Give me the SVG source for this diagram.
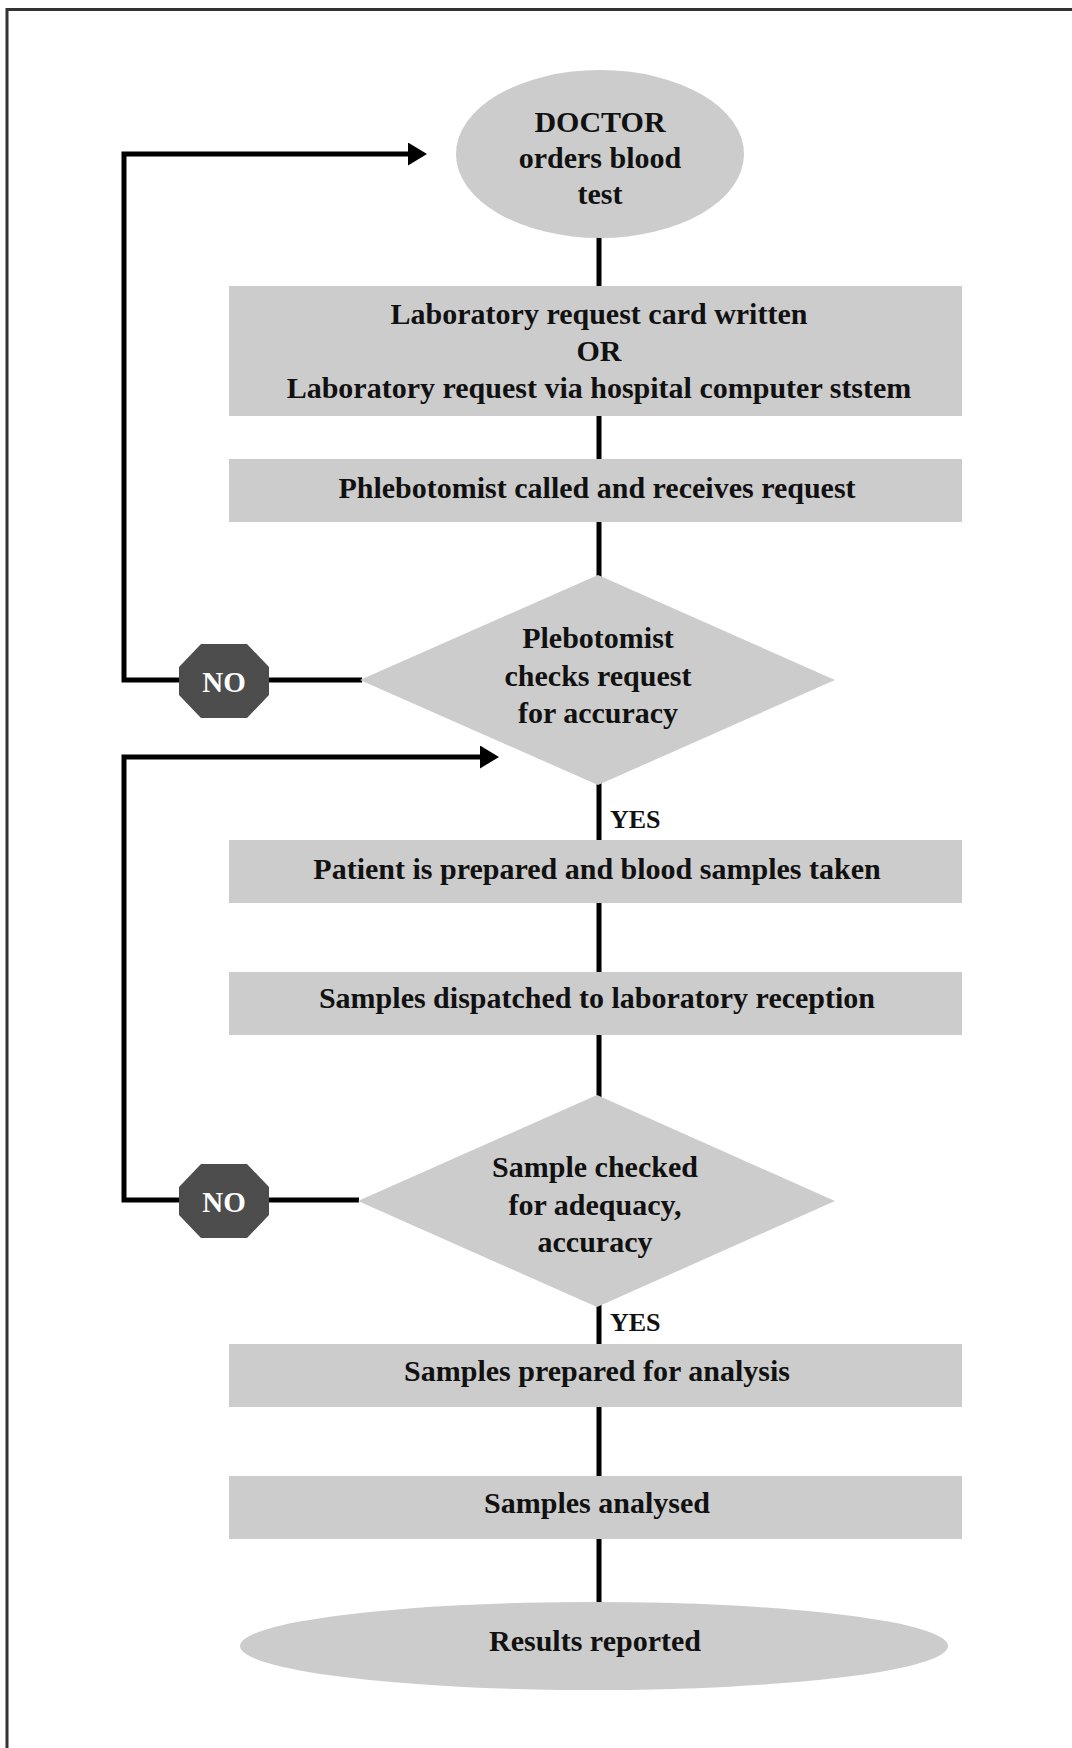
<svg xmlns="http://www.w3.org/2000/svg" width="1072" height="1748" viewBox="0 0 1072 1748">
  <style>
    .box { fill: #cccccc; }
    .stop { fill: #4d4d4d; }
    .lbl { font-family: "Liberation Serif", "Times New Roman", serif; font-weight: bold; font-size: 30px; fill: #111111; text-anchor: middle; }
    .no { fill: #ffffff; font-size: 29px; }
    .yes { font-size: 26px; text-anchor: start; }
    .wire { fill: none; stroke: #000000; stroke-width: 5; }
    .frame { fill: none; stroke: #333333; stroke-width: 3; }
  </style>
  <defs>
    <marker id="arrow" viewBox="0 0 19 23" refX="0" refY="11.5" markerWidth="19" markerHeight="23" markerUnits="userSpaceOnUse" orient="auto">
      <path d="M0,0 L19,11.5 L0,23 Z" fill="#000000"/>
    </marker>
    <polygon id="octagon" points="-23,-37 23,-37 45,-14 45,14 23,37 -23,37 -45,14 -45,-14"/>
  </defs>

  <rect width="1072" height="1748" fill="#ffffff"/>
  <!-- page frame: top and left edges -->
  <path class="frame" d="M7,1748 L7,9.5 L1072,9.5"/>

  <g id="connectors">
    <line class="wire" x1="599" y1="236" x2="599" y2="287"/>
    <line class="wire" x1="599" y1="415" x2="599" y2="460"/>
    <line class="wire" x1="599" y1="521" x2="599" y2="577"/>
    <line class="wire" x1="599" y1="783" x2="599" y2="841"/>
    <line class="wire" x1="599" y1="902" x2="599" y2="973"/>
    <line class="wire" x1="599" y1="1034" x2="599" y2="1097"/>
    <line class="wire" x1="599" y1="1305" x2="599" y2="1345"/>
    <line class="wire" x1="599" y1="1407" x2="599" y2="1477"/>
    <line class="wire" x1="599" y1="1539" x2="599" y2="1604"/>
    <!-- rejected request loops back to the doctor -->
    <path class="wire" d="M362,680 L124,680 L124,154 L408,154" marker-end="url(#arrow)"/>
    <!-- rejected sample loops back to sampling -->
    <path class="wire" d="M359,1200 L124,1200 L124,757 L480,757" marker-end="url(#arrow)"/>
  </g>

  <g id="doctor">
    <ellipse class="box" cx="600" cy="154" rx="144" ry="84"/>
    <text class="lbl" x="600" y="132">DOCTOR</text>
    <text class="lbl" x="600" y="168">orders blood</text>
    <text class="lbl" x="600" y="204">test</text>
  </g>

  <g id="request">
    <rect class="box" x="229" y="286" width="733" height="130"/>
    <text class="lbl" x="599" y="324">Laboratory request card written</text>
    <text class="lbl" x="599" y="361">OR</text>
    <text class="lbl" x="599" y="398">Laboratory request via hospital computer ststem</text>
  </g>

  <g id="phlebotomist-called">
    <rect class="box" x="229" y="459" width="733" height="63"/>
    <text class="lbl" x="597" y="498">Phlebotomist called and receives request</text>
  </g>

  <g id="check-request">
    <polygon class="box" points="598,575 835,680 598,785 360,680"/>
    <text class="lbl" x="598" y="648">Plebotomist</text>
    <text class="lbl" x="598" y="686">checks request</text>
    <text class="lbl" x="598" y="723">for accuracy</text>
  </g>

  <g id="no-request">
    <use href="#octagon" class="stop" x="224" y="681"/>
    <text class="lbl no" x="224" y="692">NO</text>
  </g>

  <g id="yes-request">
    <text class="lbl yes" x="610" y="828">YES</text>
  </g>

  <g id="samples-taken">
    <rect class="box" x="229" y="840" width="733" height="63"/>
    <text class="lbl" x="597" y="879">Patient is prepared and blood samples taken</text>
  </g>

  <g id="samples-dispatched">
    <rect class="box" x="229" y="972" width="733" height="63"/>
    <text class="lbl" x="597" y="1008">Samples dispatched to laboratory reception</text>
  </g>

  <g id="check-sample">
    <polygon class="box" points="597,1095 835,1201 597,1307 358,1201"/>
    <text class="lbl" x="595" y="1177">Sample checked</text>
    <text class="lbl" x="595" y="1215">for adequacy,</text>
    <text class="lbl" x="595" y="1252">accuracy</text>
  </g>

  <g id="no-sample">
    <use href="#octagon" class="stop" x="224" y="1201"/>
    <text class="lbl no" x="224" y="1212">NO</text>
  </g>

  <g id="yes-sample">
    <text class="lbl yes" x="610" y="1331">YES</text>
  </g>

  <g id="samples-prepared">
    <rect class="box" x="229" y="1344" width="733" height="63"/>
    <text class="lbl" x="597" y="1381">Samples prepared for analysis</text>
  </g>

  <g id="samples-analysed">
    <rect class="box" x="229" y="1476" width="733" height="63"/>
    <text class="lbl" x="597" y="1513">Samples analysed</text>
  </g>

  <g id="results">
    <ellipse class="box" cx="594" cy="1646" rx="354" ry="44"/>
    <text class="lbl" x="595" y="1651">Results reported</text>
  </g>
</svg>
